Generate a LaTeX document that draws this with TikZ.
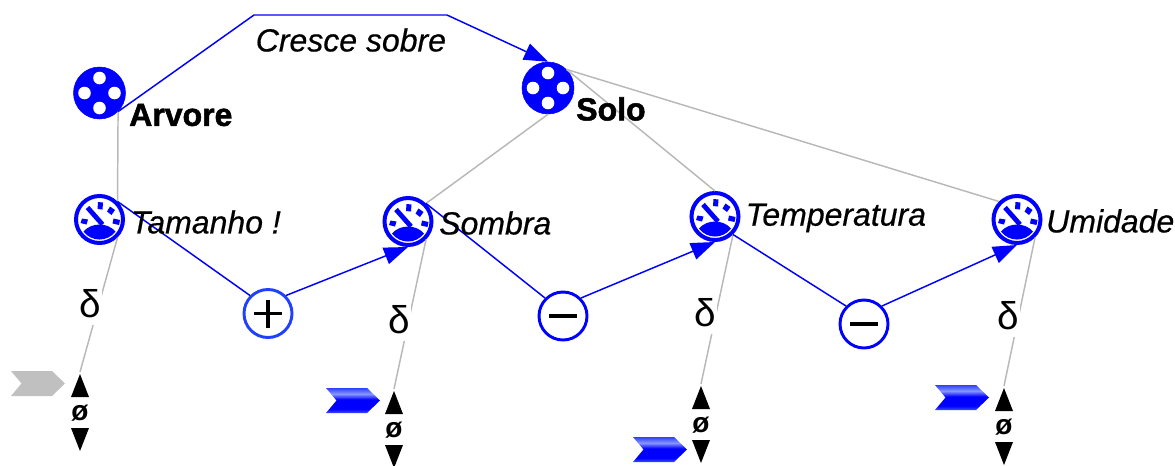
\documentclass[tikz,border=0pt]{standalone}
\usepackage{fontspec}
\setmainfont{Liberation Sans}
\newfontfamily\efont[FakeBold=1.6]{Liberation Sans Bold}
\newfontfamily\qfont[FakeBold=0.5]{Liberation Sans Italic}
\usetikzlibrary{arrows.meta}
\definecolor{qblue}{RGB}{0,0,255}
\definecolor{qplus}{RGB}{32,64,255}
\definecolor{qgray}{RGB}{184,184,184}
\definecolor{qchev}{RGB}{192,192,192}
\definecolor{qlow}{RGB}{64,80,255}
\definecolor{qlight}{RGB}{135,150,255}
\definecolor{qtop}{RGB}{48,64,255}
\pgfdeclareverticalshading{chevshade}{100bp}{color(0bp)=(qlow); color(25bp)=(qlow); color(33bp)=(qblue); color(52bp)=(qblue); color(63bp)=(qlight); color(75bp)=(qtop); color(100bp)=(qtop)}
\tikzset{
  x=0.75pt,y=-0.75pt,
  entity/.style={circle,fill=qblue,draw=qblue,line width=0.4pt,minimum size=52*0.75pt,inner sep=0pt},
  gauge/.style={circle,fill=white,draw=qblue,line width=3pt,minimum size=47*0.75pt,inner sep=0pt},
  opcirc/.style={circle,fill=white,draw=#1,line width=2.2pt,minimum size=48*0.75pt,inner sep=0pt,text=black},
  opbar/.style={line width=2.4pt,black},
  bluelink/.style={draw=qblue,line width=1.1pt},
  graylink/.style={draw=qgray,line width=1.1pt},
  bluearrow/.style={bluelink,-{Triangle[length=18pt,width=13pt,fill=qblue]}},
  elabel/.style={font=\fontsize{24pt}{24pt}\efont,anchor=west,inner sep=0pt},
  qlabel/.style={font=\fontsize{24pt}{24pt}\qfont,anchor=west,inner sep=0pt},
  dlabel/.style={font=\fontsize{29pt}{29pt}\selectfont,fill=white,inner sep=0pt,minimum width=18pt,minimum height=31pt},
  nulabel/.style={font=\fontsize{21pt}{21pt}\selectfont\bfseries,inner sep=0pt},
}
\newcommand{\qholes}[1]{%
  \begin{scope}[shift={(#1.center)}]
    \fill[white] (0,-15) circle[radius=6.3];
    \fill[white] (0,15) circle[radius=6.3];
    \fill[white] (-15,0) circle[radius=6.3];
    \fill[white] (15,0) circle[radius=6.3];
  \end{scope}
}
\newcommand{\qdial}[1]{%
  \begin{scope}[shift={(#1.center)}]
    \fill[qblue] (-16,12) .. controls (-8,2.7) and (8,2.7) .. (16,12) .. controls (8,22.7) and (-8,22.7) .. (-16,12) -- cycle;
    \draw[qblue,line width=3.6pt] (-12,-12) -- (3,5);
    \fill[qblue] (-1.5,-17.5) -- (3.5,-17) -- (3,-10) -- (-2,-10.5) -- cycle;
    \fill[qblue] (10.5,-13) -- (15.5,-9.5) -- (12,-4.5) -- (7.5,-8) -- cycle;
    \fill[qblue] (14,-1) -- (20.5,0.5) -- (19.5,5.5) -- (13,4) -- cycle;
    \fill[qblue] (-17.5,-1) -- (-11.5,0) -- (-13,5) -- (-19,3.5) -- cycle;
  \end{scope}
}
\newcommand{\qstock}[3]{% x, top y, name
  \coordinate (#3) at (#1,#2-2);
  \node[nulabel] (#3n) at (#1,#2+39) {ø};
  \fill (#1,#2) -- (#1+9,#2+23) -- (#1-9,#2+23) -- cycle;
  \fill (#1,#2+77) -- (#1+9,#2+54) -- (#1-9,#2+54) -- cycle;
}
\newcommand{\qchevron}[3]{% x, y, style
  \path[#3] (#1,#2) -- (#1+41,#2) -- (#1+54,#2+12.5) -- (#1+41,#2+25) -- (#1,#2+25) -- (#1+10.5,#2+12.5) -- cycle;
}
\begin{document}
\begin{tikzpicture}
\useasboundingbox (0,0) rectangle (1175,465);

\coordinate (b1) at (254,15);
\coordinate (b2) at (447,15);

\node[entity] (arv) at (99.5,93) {};
\node[entity] (solo) at (548,88) {};
\node[gauge] (tam) at (99.5,219.5) {};
\node[gauge] (som) at (408,221.5) {};
\node[gauge] (tem) at (715,216.5) {};
\node[gauge] (umi) at (1017,219.5) {};
\node[opcirc=qplus] (plus) at (268,313.5) {};
\node[opcirc=qblue] (m1) at (563,316) {};
\node[opcirc=qblue] (m2) at (864,324) {};
\qholes{arv}
\qholes{solo}
\qdial{tam}
\qdial{som}
\qdial{tem}
\qdial{umi}
\draw[opbar] (plus.center) ++(-14,0) -- ++(28,0) (plus.center) ++(0,-14) -- ++(0,28);
\draw[opbar] (m1.center) ++(-14,0) -- ++(28,0);
\draw[opbar] (m2.center) ++(-14,0) -- ++(28,0);

\qstock{80}{374}{s1}
\qstock{394}{391}{s2}
\qstock{701}{386}{s3}
\qstock{1004}{388}{s4}

\draw[graylink] (arv.-45) -- (tam.45);
\draw[graylink] (solo.-90) -- (som.45);
\draw[graylink] (solo.45) -- (tem.90);
\draw[graylink] (solo.45) -- (umi.135);
\draw[graylink] (tam.-45) -- (s1);
\draw[graylink] (som.-45) -- (s2);
\draw[graylink] (tem.-45) -- (s3);
\draw[graylink] (umi.-45) -- (s4);

\node[dlabel] (d1) at (90,304) {δ};
\node[dlabel] (d2) at (399,320) {δ};
\node[dlabel] (d3) at (705,313) {δ};
\node[dlabel] (d4) at (1008,316) {δ};

\draw[bluearrow] (arv.-45) -- (b1) -- (b2) -- (solo.90);
\draw[bluelink] (tam.45) -- (plus.135);
\draw[bluelink] (som.45) -- (m1.135);
\draw[bluelink] (tem.-45) -- (m2.135);
\draw[bluearrow] (plus.45) -- (som.-90);
\draw[bluearrow] (m1.45) -- (tem.-90);
\draw[bluearrow] (m2.45) -- (umi.-90);

\qchevron{11}{371}{fill=qchev}
\qchevron{326}{388}{shading=chevshade}
\qchevron{633}{437}{shading=chevshade}
\qchevron{935}{385}{shading=chevshade}

\node[elabel] (larv) at (129,115) {Arvore};
\node[elabel] (lsolo) at (576,109) {Solo};
\node[qlabel] (ltam) at (130.5,222) {Tamanho !};
\node[qlabel] (lsom) at (439,223) {Sombra};
\node[qlabel] (ltem) at (745.5,218) {Temperatura};
\node[qlabel] (lumi) at (1046,221) {Umidade};
\node[qlabel] (lcre) at (255.5,40) {Cresce sobre};
\end{tikzpicture}
\end{document}
